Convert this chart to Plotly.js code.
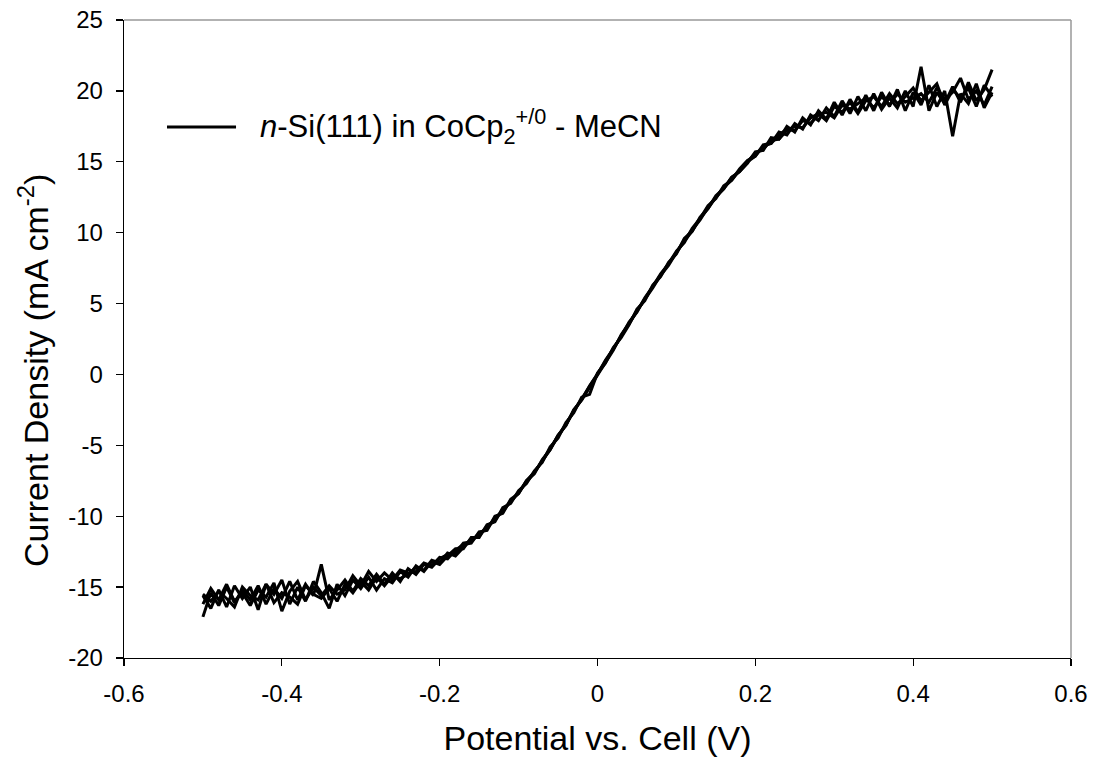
<!DOCTYPE html>
<html>
<head>
<meta charset="utf-8">
<script src="https://cdn.plot.ly/plotly-3.0.1.min.js"></script>
<style>html,body{margin:0;padding:0;background:#fff;}#chart{width:1093px;height:763px;}</style>
</head>
<body>
<div id="chart"></div>
<script>
const potential = [-0.50,-0.49,-0.48,-0.47,-0.46,-0.45,-0.44,-0.43,-0.42,-0.41,-0.40,-0.39,-0.38,-0.37,-0.36,-0.35,-0.34,-0.33,-0.32,-0.31,-0.30,-0.29,-0.28,-0.27,-0.26,-0.25,-0.24,-0.23,-0.22,-0.21,-0.20,-0.19,-0.18,-0.17,-0.16,-0.15,-0.14,-0.13,-0.12,-0.11,-0.10,-0.09,-0.08,-0.07,-0.06,-0.05,-0.04,-0.03,-0.02,-0.01,0.00,0.01,0.02,0.03,0.04,0.05,0.06,0.07,0.08,0.09,0.10,0.11,0.12,0.13,0.14,0.15,0.16,0.17,0.18,0.19,0.20,0.21,0.22,0.23,0.24,0.25,0.26,0.27,0.28,0.29,0.30,0.31,0.32,0.33,0.34,0.35,0.36,0.37,0.38,0.39,0.40,0.41,0.42,0.43,0.44,0.45,0.46,0.47,0.48,0.49,0.50];

const scan1 = [-17.1,-15.4,-16.3,-15.0,-16.1,-15.2,-15.9,-14.9,-16.2,-15.1,-15.8,-14.6,-15.9,-14.8,-15.6,-13.4,-15.9,-15.2,-14.5,-15.3,-14.4,-14.9,-14.1,-14.8,-14.0,-14.6,-13.7,-14.1,-13.4,-13.6,-13.0,-12.7,-12.6,-11.9,-11.8,-11.2,-10.9,-10.1,-9.7,-8.9,-8.4,-7.5,-6.9,-6.1,-5.3,-4.3,-3.6,-2.5,-1.8,-0.8,0.0,1.0,1.8,2.7,3.7,4.4,5.4,6.2,7.1,7.8,8.7,9.3,10.3,11.0,11.9,12.4,13.3,13.7,14.5,15.1,15.4,16.2,16.3,17.1,16.9,17.7,17.3,18.3,17.9,18.8,18.2,19.3,18.4,19.6,18.6,19.8,18.7,19.5,18.8,20.0,18.9,21.7,18.6,19.9,19.1,20.3,19.2,20.6,19.3,20.1,21.5];

const scan2 = [-15.6,-16.5,-15.2,-16.4,-14.9,-15.8,-15.0,-16.6,-14.8,-15.5,-14.5,-16.2,-15.0,-16.0,-14.6,-15.4,-16.5,-14.8,-15.6,-14.5,-15.1,-14.3,-15.2,-14.4,-14.7,-13.9,-14.3,-13.5,-13.9,-13.2,-13.4,-12.8,-12.3,-12.3,-11.5,-11.5,-10.6,-10.4,-9.4,-9.1,-8.2,-7.7,-6.8,-6.2,-5.1,-4.5,-3.4,-2.7,-1.6,-1.4,0.1,0.8,1.9,2.6,3.5,4.6,5.2,6.3,6.9,7.9,8.5,9.6,10.1,11.1,11.7,12.6,13.1,13.9,14.3,14.9,15.7,15.8,16.7,16.6,17.5,17.1,18.1,17.6,18.6,18.0,19.2,18.3,19.4,18.5,19.7,18.6,19.9,18.9,20.1,18.6,19.9,19.0,20.4,18.9,20.0,16.8,19.8,19.1,20.5,18.8,19.9];

const scan3 = [-16.2,-15.1,-15.9,-14.8,-16.0,-15.4,-16.3,-15.2,-15.7,-14.7,-16.7,-15.3,-14.6,-15.9,-15.0,-15.6,-14.9,-15.5,-15.2,-14.2,-14.9,-13.9,-14.6,-14.0,-14.5,-13.8,-14.0,-13.9,-13.3,-13.5,-12.9,-13.0,-12.4,-12.0,-11.9,-11.1,-11.0,-10.0,-9.8,-8.8,-8.4,-7.5,-7.0,-6.0,-5.3,-4.3,-3.6,-2.5,-1.8,-0.9,-0.1,0.9,1.7,2.8,3.6,4.5,5.3,6.1,7.0,7.7,8.6,9.4,10.1,11.0,11.7,12.5,13.2,13.7,14.4,15.0,15.4,16.1,16.3,16.9,17.3,17.2,17.9,17.7,18.3,18.5,18.1,19.0,18.7,19.1,19.5,18.8,19.6,19.0,19.8,19.2,19.5,19.8,19.2,20.2,19.4,19.9,20.9,19.4,20.0,19.0,20.3];

const scan4 = [-15.5,-16.0,-15.3,-15.8,-16.4,-15.0,-15.6,-15.9,-14.8,-16.1,-15.4,-15.7,-16.2,-14.9,-15.5,-15.8,-15.1,-16.0,-14.8,-15.4,-14.6,-15.2,-14.3,-14.9,-14.2,-14.4,-14.1,-13.6,-13.8,-13.1,-13.3,-12.6,-12.8,-12.2,-11.6,-11.4,-10.7,-10.3,-9.5,-9.0,-8.3,-7.6,-6.9,-6.1,-5.2,-4.4,-3.5,-2.6,-1.7,-0.9,0.0,0.9,1.8,2.7,3.6,4.5,5.3,6.2,7.0,7.8,8.6,9.5,10.2,10.9,11.8,12.5,13.1,13.9,14.3,15.0,15.6,15.9,16.5,16.6,17.2,17.5,17.4,18.1,18.4,17.9,18.9,18.5,19.2,18.4,19.3,19.6,18.9,19.8,19.1,19.6,20.2,19.3,19.9,20.5,19.0,20.1,19.5,20.2,18.9,20.4,19.6];

const legendLabel = '<i>n</i>-Si(111) in CoCp<sub>2</sub><sup>+/0</sup> - MeCN';
const xTitle = 'Potential vs. Cell (V)';
const yTitle = 'Current Density (mA cm<sup>-2</sup>)';
const xTicks = [-0.6,-0.4,-0.2,0,0.2,0.4,0.6];
const xTickText = ['-0.6','-0.4','-0.2','0','0.2','0.4','0.6'];
const yTicks = [-20,-15,-10,-5,0,5,10,15,20,25];
const yTickText = ['-20','-15','-10','-5','0','5','10','15','20','25'];

const scans = [scan1, scan2, scan3, scan4];
const traces = scans.map(s => ({
  x: potential, y: s, type: 'scatter', mode: 'lines',
  line: {color: '#000', width: 3}, showlegend: false, hoverinfo: 'skip'
}));

const font = 'Arial, "Liberation Sans", sans-serif';
const layout = {
  width: 1093, height: 763,
  margin: {l: 124, r: 22, t: 20, b: 105},
  paper_bgcolor: '#fff', plot_bgcolor: '#fff',
  showlegend: false,
  font: {family: font, color: '#000'},
  xaxis: {
    range: [-0.6, 0.6], tickvals: xTicks, ticktext: xTickText,
    showgrid: false, zeroline: false, showline: true, linecolor: '#000', linewidth: 1.3,
    ticks: 'outside', ticklen: 7, tickwidth: 1.3, tickcolor: '#000',
    tickfont: {size: 24, family: font}, ticklabelstandoff: 7,
    title: {text: xTitle, font: {size: 34, family: font}, standoff: 20},
    automargin: false
  },
  yaxis: {
    range: [-20, 25], tickvals: yTicks, ticktext: yTickText,
    showgrid: false, zeroline: false, showline: true, linecolor: '#000', linewidth: 1.3,
    ticks: 'outside', ticklen: 7, tickwidth: 1.3, tickcolor: '#000',
    tickfont: {size: 24, family: font}, ticklabelstandoff: 8,
    automargin: false
  },
  shapes: [
    {type: 'line', xref: 'paper', yref: 'paper', x0: 0, x1: 1, y0: 1, y1: 1, line: {color: '#999', width: 1.5}},
    {type: 'line', xref: 'paper', yref: 'paper', x0: 1, x1: 1, y0: 0, y1: 1, line: {color: '#999', width: 1.5}},
    {type: 'line', xref: 'paper', yref: 'paper', x0: 0.0454, x1: 0.1183, y0: 0.8323, y1: 0.8323, line: {color: '#000', width: 2.8}}
  ],
  annotations: [
    {xref: 'paper', yref: 'paper', x: 0.141, y: 0.8323, xanchor: 'left', yanchor: 'middle',
     text: legendLabel, showarrow: false, font: {size: 31, family: font, color: '#000'}},
    {xref: 'paper', yref: 'paper', x: -0.0961, y: 0.4514, xanchor: 'center', yanchor: 'middle',
     textangle: -90, text: yTitle, showarrow: false, font: {size: 34, family: font, color: '#000'}}
  ]
};

Plotly.newPlot('chart', traces, layout, {displayModeBar: false, staticPlot: true});
</script>
</body>
</html>
